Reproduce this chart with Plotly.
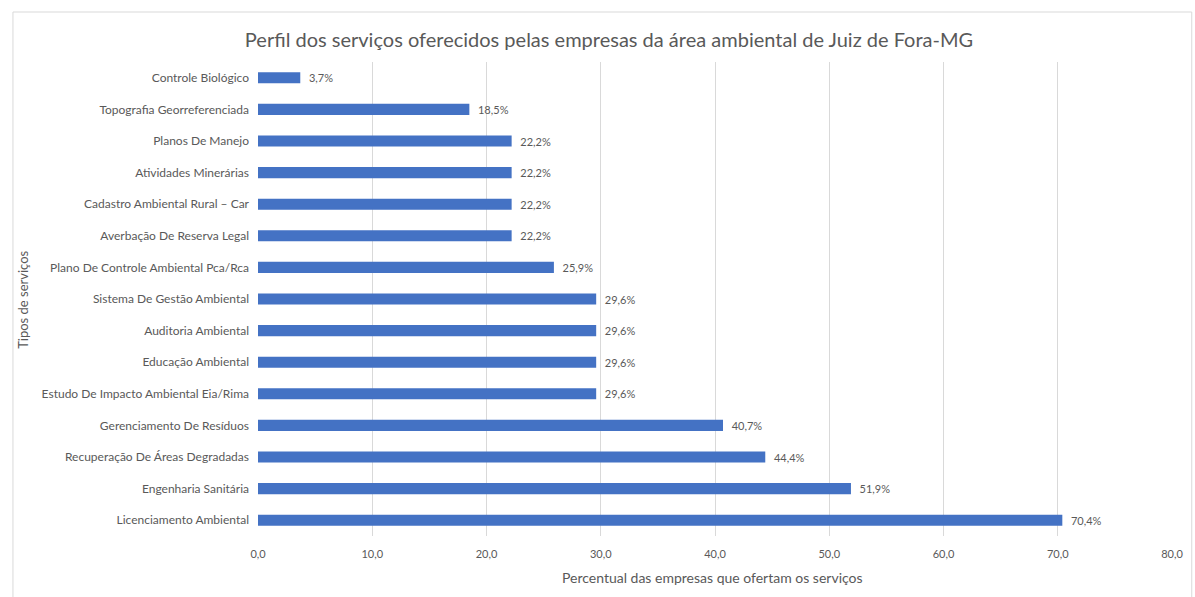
import plotly.graph_objects as go

# Services offered (bottom to top on the chart)
servicos = [
    "Licenciamento Ambiental",
    "Engenharia Sanitária",
    "Recuperação De Áreas Degradadas",
    "Gerenciamento De Resíduos",
    "Estudo De Impacto Ambiental Eia/Rima",
    "Educação Ambiental",
    "Auditoria Ambiental",
    "Sistema De Gestão Ambiental",
    "Plano De Controle Ambiental Pca/Rca",
    "Averbação De Reserva Legal",
    "Cadastro Ambiental Rural – Car",
    "Atividades Minerárias",
    "Planos De Manejo",
    "Topografia Georreferenciada",
    "Controle Biológico",
]
percentuais = [70.4, 51.9, 44.4, 40.7, 29.6, 29.6, 29.6, 29.6, 25.9, 22.2, 22.2, 22.2, 22.2, 18.5, 3.7]
x_ticks = [0, 10, 20, 30, 40, 50, 60, 70, 80]

# value labels use a decimal comma, with a small gap after the bar end
rotulos = ["\u00a0\u00a0" + f"{v:.1f}".replace(".", ",") + "%" for v in percentuais]

W, H = 1195, 597
L, R, T, B = 258, 12, 62, 61
pw, ph = W - L - R, H - T - B

def px_x(p):
    return (p - L) / pw

def px_y(p):
    return (H - B - p) / ph

cinza = "#595959"
fonte = "Lato, 'Open Sans', sans-serif"

fig = go.Figure(
    go.Bar(
        x=percentuais,
        y=servicos,
        orientation="h",
        marker=dict(color="#4472C4", line=dict(width=0)),
        text=rotulos,
        textposition="outside",
        constraintext="none",
        textfont=dict(size=11, color=cinza, family=fonte),
        cliponaxis=False,
    )
)

fig.update_layout(
    width=W,
    height=H,
    margin=dict(l=L, r=R, t=T, b=B),
    paper_bgcolor="white",
    plot_bgcolor="white",
    separators=",.",
    bargap=0.65,
    showlegend=False,
    font=dict(family=fonte, color=cinza, size=11),
    title=dict(
        text="Perfil dos serviços oferecidos pelas empresas da área ambiental de Juiz de Fora-MG",
        x=609 / W,
        xanchor="center",
        y=1 - 40 / H,
        yanchor="middle",
        font=dict(size=20, color=cinza, family=fonte),
    ),
    xaxis=dict(
        range=[0, 80],
        tickvals=x_ticks,
        tickformat=".1f",
        showgrid=True,
        gridcolor="#D9D9D9",
        gridwidth=1,
        zeroline=False,
        showline=False,
        ticks="",
        ticklabelstandoff=10,
        tickfont=dict(size=11, color=cinza),
    ),
    yaxis=dict(
        categoryorder="array",
        categoryarray=servicos,
        showgrid=False,
        zeroline=False,
        showline=False,
        ticks="",
        ticklabelstandoff=8,
        tickfont=dict(size=12, color=cinza),
    ),
    annotations=[
        dict(
            text="Percentual das empresas que ofertam os serviços",
            xref="paper", yref="paper",
            x=px_x(718), y=px_y(577),
            xanchor="center", yanchor="middle",
            showarrow=False,
            font=dict(size=14, color=cinza),
        ),
        dict(
            text="Tipos de serviços",
            xref="paper", yref="paper",
            x=px_x(20), y=px_y(300),
            xanchor="center", yanchor="middle",
            textangle=-90,
            showarrow=False,
            font=dict(size=13, color=cinza),
        ),
    ],
    shapes=[
        dict(
            type="rect",
            xref="paper", yref="paper",
            x0=px_x(10), x1=px_x(1203),
            y0=px_y(605), y1=px_y(12),
            line=dict(color="#D9D9D9", width=1),
            fillcolor="rgba(0,0,0,0)",
            layer="below",
        )
    ],
)

fig.write_html("out.html")
